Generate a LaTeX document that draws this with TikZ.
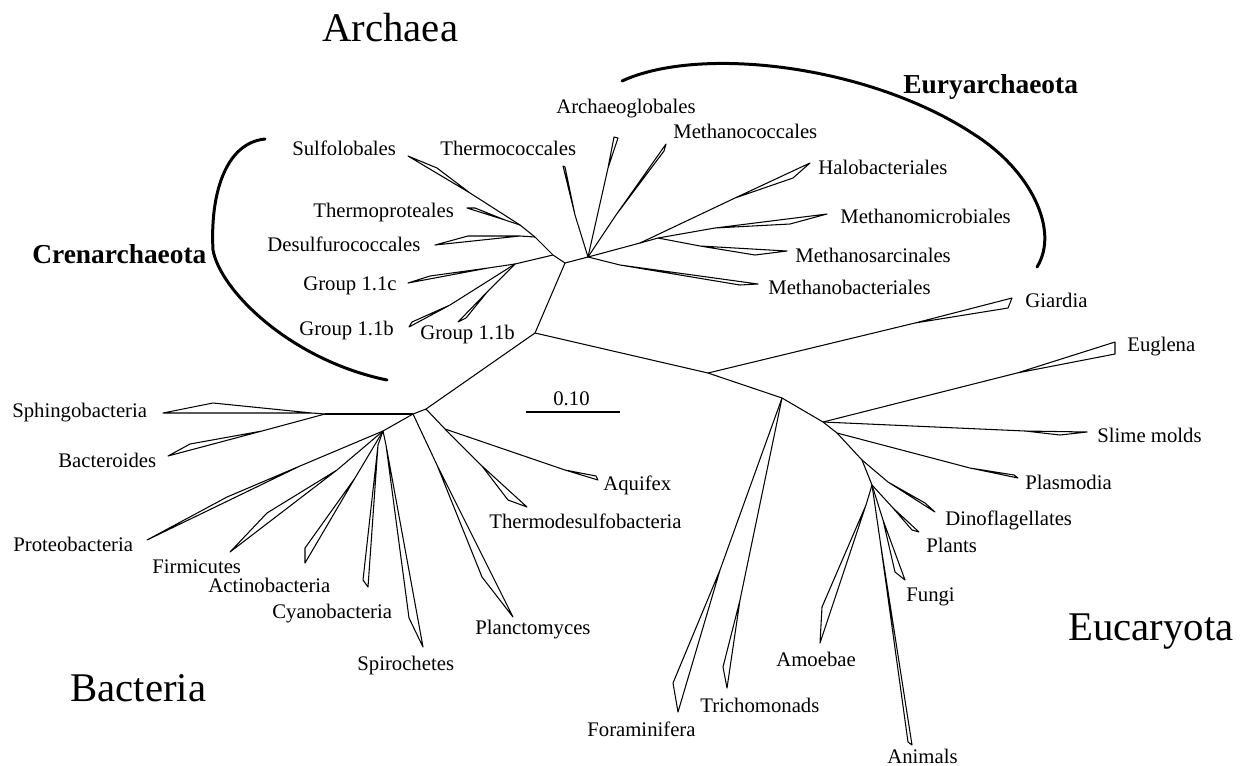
\documentclass[tikz,border=0pt]{standalone}
\usepackage{fontspec}
\setmainfont{Liberation Serif}

\begin{document}
\begin{tikzpicture}[x=0.02cm, y=-0.02cm]
  % styles
  \tikzset{branch/.style = {draw, line width=0.6pt, line join=round}}
  \tikzset{bracket/.style = {draw, line width=1.7pt, line cap=round}}
  \tikzset{taxon/.style = {inner sep=0pt, anchor=base west, font=\fontsize{11.8}{14}\selectfont}}
  \tikzset{phylum/.style = {inner sep=0pt, anchor=base west, font=\bfseries\fontsize{15.6}{18}\selectfont}}
  \tikzset{kingdom/.style = {inner sep=0pt, anchor=base west, font=\fontsize{23.2}{26}\selectfont}}

  \useasboundingbox (0,0) rectangle (1250,765);

  % internal nodes
  \coordinate (z)  at (535,333);
  \coordinate (c0) at (565,263);
  \coordinate (c1) at (553,255);
  \coordinate (c2) at (535,237);
  \coordinate (c3) at (520,225);
  \coordinate (g1) at (515,264);
  \coordinate (e0) at (588,257);
  \coordinate (m1) at (640,243);
  \coordinate (m2) at (658,238);
  \coordinate (b0) at (426,409);
  \coordinate (b1) at (413,414);
  \coordinate (sb) at (325,414);
  \coordinate (b2) at (383,431);
  \coordinate (a1) at (445,429);
  \coordinate (k0) at (708,373);
  \coordinate (k1) at (782,398);
  \coordinate (k2) at (823,422);
  \coordinate (k3) at (837,433);
  \coordinate (k4) at (862,460);
  \coordinate (k5) at (872,485);

  % backbone
  \draw[branch] (b0) -- (z) -- (c0) -- (e0);
  \draw[branch] (c0) -- (c1) -- (c2) -- (c3);
  \draw[branch] (c1) -- (g1);
  \draw[branch] (e0) -- (m1) -- (m2);
  \draw[branch] (b2) -- (b1) -- (b0) -- (a1);
  \draw[branch] (b1) -- (sb);
  \draw[branch] (z) -- (k0) -- (k1) -- (k2) -- (k3) -- (k4) -- (k5);

  % Crenarchaeota clades
  \coordinate (sulfa) at (470,193);  \coordinate (sulf) at (408,156);  \coordinate (sulfq) at (437,168);
  \coordinate (tproa) at (505,220);  \coordinate (tpro) at (467,208);  \coordinate (tproq) at (475,208);
  \coordinate (desua) at (520,236);  \coordinate (desu) at (435,245);  \coordinate (desuq) at (468,236);
  \coordinate (gca)   at (488,268);  \coordinate (gc)   at (408,283);  \coordinate (gcq)   at (430,276);
  \coordinate (gba)   at (450,305);  \coordinate (gb)   at (409,327);  \coordinate (gbq)   at (412,322);
  \coordinate (gra)   at (488,291);  \coordinate (gr)   at (458,322);  \coordinate (grq)   at (466,318);
  \draw[branch] (c3) -- (sulfa) -- (sulf) -- (sulfq) -- (sulfa);
  \draw[branch] (c3) -- (tproa) -- (tpro) -- (tproq) -- (tproa);
  \draw[branch] (c2) -- (desua) -- (desu) -- (desuq) -- (desua);
  \draw[branch] (g1) -- (gca) -- (gc) -- (gcq) -- (gca);
  \draw[branch] (g1) -- (gba) -- (gb) -- (gbq) -- (gba);
  \draw[branch] (g1) -- (gra) -- (gr) -- (grq) -- (gra);

  % Euryarchaeota clades
  \coordinate (tcoa) at (575,215);  \coordinate (tco) at (563,166);  \coordinate (tcoq) at (565,167);
  \coordinate (arga) at (608,168);  \coordinate (arg) at (614,137);  \coordinate (argq) at (618,138);
  \coordinate (mcoa) at (616,215);  \coordinate (mco) at (666,144);  \coordinate (mcoq) at (664,151);
  \coordinate (haloa) at (735,198); \coordinate (halo) at (810,163); \coordinate (haloq) at (793,178);
  \coordinate (mmia) at (715,228);  \coordinate (mmi) at (827,214);  \coordinate (mmiq) at (790,224);
  \coordinate (msaa) at (700,246);  \coordinate (msa) at (787,251);  \coordinate (msaq) at (755,255);
  \coordinate (mbaa) at (620,265);  \coordinate (mba) at (758,284);  \coordinate (mbaq) at (740,285);
  \draw[branch] (e0) -- (tcoa) -- (tco) -- (tcoq) -- (tcoa);
  \draw[branch] (e0) -- (arga) -- (arg) -- (argq) -- (arga);
  \draw[branch] (e0) -- (mcoa) -- (mco) -- (mcoq) -- (mcoa);
  \draw[branch] (m1) -- (haloa) -- (halo) -- (haloq) -- (haloa);
  \draw[branch] (m2) -- (mmia) -- (mmi) -- (mmiq) -- (mmia);
  \draw[branch] (m2) -- (msaa) -- (msa) -- (msaq) -- (msaa);
  \draw[branch] (e0) -- (mbaa) -- (mba) -- (mbaq) -- (mbaa);

  % Bacteria clades
  \coordinate (sphia) at (312,413); \coordinate (sphi) at (163,413); \coordinate (sphiq) at (213,403);
  \coordinate (bcta) at (262,431);  \coordinate (bct) at (168,456);  \coordinate (bctq) at (190,444);
  \coordinate (prota) at (300,466); \coordinate (prot) at (147,540); \coordinate (protq) at (227,497);
  \coordinate (firma) at (337,470); \coordinate (firm) at (230,552); \coordinate (firmq) at (267,513);
  \coordinate (acta) at (355,478);  \coordinate (act) at (305,563);  \coordinate (actq) at (305,548);
  \coordinate (cyaa) at (378,445);  \coordinate (cya) at (368,587);  \coordinate (cyaq) at (363,580);
  \coordinate (spia) at (386,445);  \coordinate (spi) at (423,647);  \coordinate (spiq) at (409,618);
  \coordinate (plaa) at (437,465);  \coordinate (pla) at (513,617);  \coordinate (plaq) at (482,577);
  \coordinate (aqua) at (565,470);  \coordinate (aqu) at (598,480);  \coordinate (aquq) at (596,476);
  \coordinate (tdsa) at (482,466);  \coordinate (tds) at (527,507);  \coordinate (tdsq) at (508,500);
  \draw[branch] (sb) -- (sphia) -- (sphi) -- (sphiq) -- (sphia);
  \draw[branch] (sb) -- (bcta) -- (bct) -- (bctq) -- (bcta);
  \draw[branch] (b2) -- (prota) -- (prot) -- (protq) -- (prota);
  \draw[branch] (b2) -- (firma) -- (firm) -- (firmq) -- (firma);
  \draw[branch] (b2) -- (acta) -- (act) -- (actq) -- (acta);
  \draw[branch] (b2) -- (cyaa) -- (cya) -- (cyaq) -- (cyaa);
  \draw[branch] (b2) -- (spia) -- (spi) -- (spiq) -- (spia);
  \draw[branch] (b1) -- (plaa) -- (pla) -- (plaq) -- (plaa);
  \draw[branch] (a1) -- (aqua) -- (aqu) -- (aquq) -- (aqua);
  \draw[branch] (a1) -- (tdsa) -- (tds) -- (tdsq) -- (tdsa);

  % Eucaryota clades
  \coordinate (gia) at (915,323);   \coordinate (gi) at (1012,298);  \coordinate (giq) at (1008,308);
  \coordinate (fora) at (720,570);  \coordinate (fo) at (678,712);   \coordinate (foq) at (673,683);
  \coordinate (tria) at (740,600);  \coordinate (tri) at (727,688);  \coordinate (triq) at (723,667);
  \coordinate (eua) at (1017,373);  \coordinate (eu) at (1115,342);  \coordinate (euq) at (1115,354);
  \coordinate (slma) at (1025,431); \coordinate (slm) at (1087,432); \coordinate (slmq) at (1060,435);
  \coordinate (plsa) at (970,468);  \coordinate (pls) at (1018,478); \coordinate (plsq) at (1014,475);
  \coordinate (dina) at (888,482);  \coordinate (din) at (935,512);  \coordinate (dinq) at (925,503);
  \coordinate (plna) at (893,508);  \coordinate (pln) at (919,532);  \coordinate (plnq) at (912,530);
  \coordinate (funa) at (883,520);  \coordinate (fun) at (905,580);  \coordinate (funq) at (895,572);
  \coordinate (amoa) at (866,505);  \coordinate (amo) at (820,643);  \coordinate (amoq) at (822,607);
  \coordinate (ania) at (880,540);  \coordinate (ani) at (912,745);  \coordinate (aniq) at (908,742);
  \draw[branch] (k0) -- (gia) -- (gi) -- (giq) -- (gia);
  \draw[branch] (k1) -- (fora) -- (fo) -- (foq) -- (fora);
  \draw[branch] (k1) -- (tria) -- (tri) -- (triq) -- (tria);
  \draw[branch] (k2) -- (eua) -- (eu) -- (euq) -- (eua);
  \draw[branch] (k2) -- (slma) -- (slm) -- (slmq) -- (slma);
  \draw[branch] (k3) -- (plsa) -- (pls) -- (plsq) -- (plsa);
  \draw[branch] (k4) -- (dina) -- (din) -- (dinq) -- (dina);
  \draw[branch] (k5) -- (plna) -- (pln) -- (plnq) -- (plna);
  \draw[branch] (k5) -- (funa) -- (fun) -- (funq) -- (funa);
  \draw[branch] (k5) -- (amoa) -- (amo) -- (amoq) -- (amoa);
  \draw[branch] (k5) -- (ania) -- (ani) -- (aniq) -- (ania);

  % brackets
  \coordinate (cr0) at (265,139);
  \coordinate (cr1) at (213,250);
  \coordinate (cr2) at (387,380);
  \draw[bracket] (cr0) .. controls (225,143) and (210,195) .. (cr1)
                       .. controls (220,290) and (290,360) .. (cr2);
  \coordinate (eu0) at (622,81);
  \coordinate (eu1) at (975,135);
  \coordinate (eu2) at (1037,267);
  \draw[bracket] (eu0) .. controls (700,45) and (870,65) .. (eu1)
                       .. controls (1030,170) and (1060,230) .. (eu2);

  % scale bar
  \coordinate (sc0) at (526,412);
  \coordinate (sc1) at (620,412);
  \draw[branch] (sc0) -- (sc1);
  \node[taxon] (scale) at (553,405) {0.10};

  % labels
  \node[kingdom] (archaea) at (322,41) {Archaea};
  \node[kingdom] (bacteria) at (70,701) {Bacteria};
  \node[kingdom] (eucaryota) at (1068,640) {Eucaryota};
  \node[phylum] (crenarch) at (32,263) {Crenarchaeota};
  \node[phylum] (euryarch) at (903,93) {Euryarchaeota};

  \node[taxon] (lsulf) at (292,155) {Sulfolobales};
  \node[taxon] (ltpro) at (313,217) {Thermoproteales};
  \node[taxon] (ldesu) at (267,251) {Desulfurococcales};
  \node[taxon] (lgc) at (303,290) {Group 1.1c};
  \node[taxon] (lgb) at (299,335) {Group 1.1b};
  \node[taxon] (lgr) at (420,339) {Group 1.1b};
  \node[taxon] (ltco) at (440,155) {Thermococcales};
  \node[taxon] (larg) at (556,113) {Archaeoglobales};
  \node[taxon] (lmco) at (673,138) {Methanococcales};
  \node[taxon] (lhalo) at (818,174) {Halobacteriales};
  \node[taxon] (lmmi) at (840,223) {Methanomicrobiales};
  \node[taxon] (lmsa) at (795,262) {Methanosarcinales};
  \node[taxon] (lmba) at (768,294) {Methanobacteriales};

  \node[taxon] (lsphi) at (12,417) {Sphingobacteria};
  \node[taxon] (lbct) at (58,467) {Bacteroides};
  \node[taxon] (lprot) at (13,551) {Proteobacteria};
  \node[taxon] (lfirm) at (152,573) {Firmicutes};
  \node[taxon] (lact) at (208,592) {Actinobacteria};
  \node[taxon] (lcya) at (272,618) {Cyanobacteria};
  \node[taxon] (lspi) at (357,670) {Spirochetes};
  \node[taxon] (lpla) at (475,634) {Planctomyces};
  \node[taxon] (laqu) at (603,490) {Aquifex};
  \node[taxon] (ltds) at (489,528) {Thermodesulfobacteria};

  \node[taxon] (lgi) at (1025,307) {Giardia};
  \node[taxon] (leu) at (1127,351) {Euglena};
  \node[taxon] (lslm) at (1097,442) {Slime molds};
  \node[taxon] (lpls) at (1025,489) {Plasmodia};
  \node[taxon] (ldin) at (945,525) {Dinoflagellates};
  \node[taxon] (lpln) at (926,552) {Plants};
  \node[taxon] (lfun) at (906,601) {Fungi};
  \node[taxon] (lamo) at (776,666) {Amoebae};
  \node[taxon] (lani) at (887,763) {Animals};
  \node[taxon] (ltri) at (700,712) {Trichomonads};
  \node[taxon] (lfor) at (587,736) {Foraminifera};
\end{tikzpicture}
\end{document}
